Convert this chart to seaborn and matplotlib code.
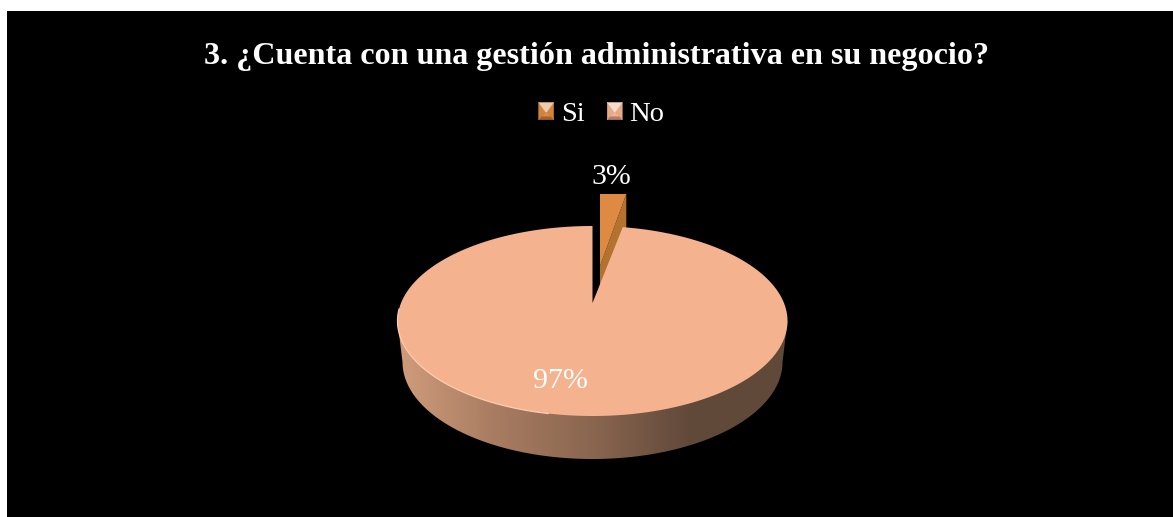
import numpy as np
import matplotlib
matplotlib.use("Agg")
import matplotlib.pyplot as plt
from matplotlib.patches import Polygon, Patch
from matplotlib.legend_handler import HandlerPatch
import seaborn as sns

# Survey answers
categories = ["Si", "No"]
shares = [3, 97]
title_text = "3. ¿Cuenta con una gestión administrativa en su negocio?"

# Colours per answer
top_colors = ["#DF8A42", "#F4B28E"]
cut_face_color = "#B3722F"
wall_stops = ["#D09C7C", "#A87C61", "#8A6650", "#61493A", "#61493A"]

W, H = 1173, 517
sns.set_theme(style="white", rc={"font.family": "Liberation Serif"})
fig = plt.figure(figsize=(W / 100, H / 100), dpi=100, facecolor="white")
ax = fig.add_axes([7 / W, 0, (W - 7) / W, (H - 11) / H], facecolor="black")
sns.despine(ax=ax, left=True, bottom=True)
ax.set_xticks([])
ax.set_yticks([])

# Tilted-disc projection: pie plane to screen pixels
APEX_X, APEX_Y = 592.5, 303.0
PERSP, V_SCALE = 36 / 190, 91.6
U_SCALE = 195 * np.sqrt(1 - PERSP ** 2)


def project(frac, radius=1.0):
    theta = 2 * np.pi * np.asarray(frac, dtype=float)
    px, py = radius * np.sin(theta), radius * np.cos(theta)
    den = 1 + PERSP * py
    return np.column_stack([APEX_X + U_SCALE * px / den, APEX_Y - V_SCALE * py / den])


fractions = np.cumsum([0] + shares) / sum(shares)
APEX = np.array([[APEX_X, APEX_Y]])

# "Si" slice: pulled away from the disc, so it recedes slightly, and cut off by the plot area
offset = np.array([7.5, -37.0])
si_rim = project(np.linspace(fractions[0], fractions[1], 30))
si_top = APEX + (np.vstack([APEX, si_rim]) - APEX) * [0.87, 0.95] + offset
end = si_top[-1]
cut_face = np.array([si_top[0], end, end + [0, 43], si_top[0] + [0, 43]])
clip_rect = plt.Rectangle((590, 193.5), 60, 120, transform=ax.transData)
si_cut = ax.add_patch(Polygon(cut_face, closed=True, fc=cut_face_color, ec="none"))
si_face = ax.add_patch(Polygon(si_top, closed=True, fc=top_colors[0], ec="none"))
si_cut.set_clip_path(clip_rect)
si_face.set_clip_path(clip_rect)

# Outer wall of the disc with its horizontal shading
ring = project(np.linspace(0, 1, 721))
CENTER = np.array([592.5, 321.0])
LOWER_CENTER = np.array([592.5, 362.0])
lower = LOWER_CENTER + (ring - CENTER) * [190 / 195, 97 / 95]
front = lower[lower[:, 1] >= LOWER_CENTER[1]]
front = front[np.argsort(-front[:, 0])]
wall_outline = np.vstack([[ring[:, 0].max(), CENTER[1]], front, [ring[:, 0].min(), CENTER[1]]])
wall_poly = Polygon(wall_outline, closed=True, transform=ax.transData, fc="none", ec="none")
ax.add_patch(wall_poly)
shade = sns.blend_palette(wall_stops, as_cmap=True)
img = ax.imshow(np.linspace(0, 1, 400)[None, :], cmap=shade, aspect="auto",
                extent=[397, 788, 462, 318], interpolation="bilinear")
img.set_clip_path(wall_poly)

# "No" slice on top of the wall
no_rim = project(np.linspace(fractions[1], fractions[2], 720))
no_top = np.vstack([APEX, no_rim])
ax.add_patch(Polygon(no_top, closed=True, fc=top_colors[1], ec="none"))

# Soft highlight along the front-left rim
rim_light = project(np.linspace(0.53, 0.74, 120))
ax.plot(rim_light[:, 0], rim_light[:, 1], color="#FBCDB2", lw=0.9, solid_capstyle="round")

# Value labels
ax.text(611, 176.5, f"{shares[0]}%", color="white", fontsize=21.5, ha="center", va="center")
ax.text(560.5, 380.5, f"{shares[1]}%", color="white", fontsize=21.5, ha="center", va="center")

# Heading
ax.text(596, 56, title_text, color="white", fontsize=23.1, fontweight="bold",
        ha="center", va="center")


class BevelHandler(HandlerPatch):
    """Legend key drawn as a small bevelled square with a pale upper facet."""

    def create_artists(self, legend, orig, xd, yd, width, height, fontsize, trans):
        base = np.array(matplotlib.colors.to_rgb(orig.get_facecolor()))
        w, h = width, height
        x0, y0 = -xd, -yd - 0.5
        o = [(x0, y0), (x0 + w, y0), (x0 + w, y0 + h), (x0, y0 + h)]
        i = [(x0 + 0.18 * w, y0 + 0.2 * h), (x0 + 0.82 * w, y0 + 0.2 * h),
             (x0 + 0.55 * w, y0 + 0.45 * h), (x0 + 0.45 * w, y0 + 0.45 * h)]
        pieces = [
            ([o[0], o[1], i[1], i[0]], base * 0.72),
            ([o[1], o[2], i[2], i[1]], base * 0.95),
            ([o[3], o[0], i[0], i[3]], base * 0.95),
            (i, base),
            ([o[2], o[3], i[3], i[2]], base * 0.45 + 0.55),
        ]
        return [Polygon(p, closed=True, fc=c, ec=c, lw=0.3, transform=trans) for p, c in pieces]


handles = [Patch(facecolor=c, label=n) for c, n in zip(top_colors, categories)]
ax.legend(handles=handles, handler_map={Patch: BevelHandler()}, ncol=2, frameon=False,
          loc="center", bbox_to_anchor=(601.5, 114), bbox_transform=ax.transData,
          labelcolor="white", fontsize=20.5, handlelength=0.53, handleheight=0.56,
          handletextpad=0.25, columnspacing=0.8, borderpad=0)

ax.set_xlim(7, W)
ax.set_ylim(H, 11)
fig.savefig("out.png", dpi=100, facecolor="white")
